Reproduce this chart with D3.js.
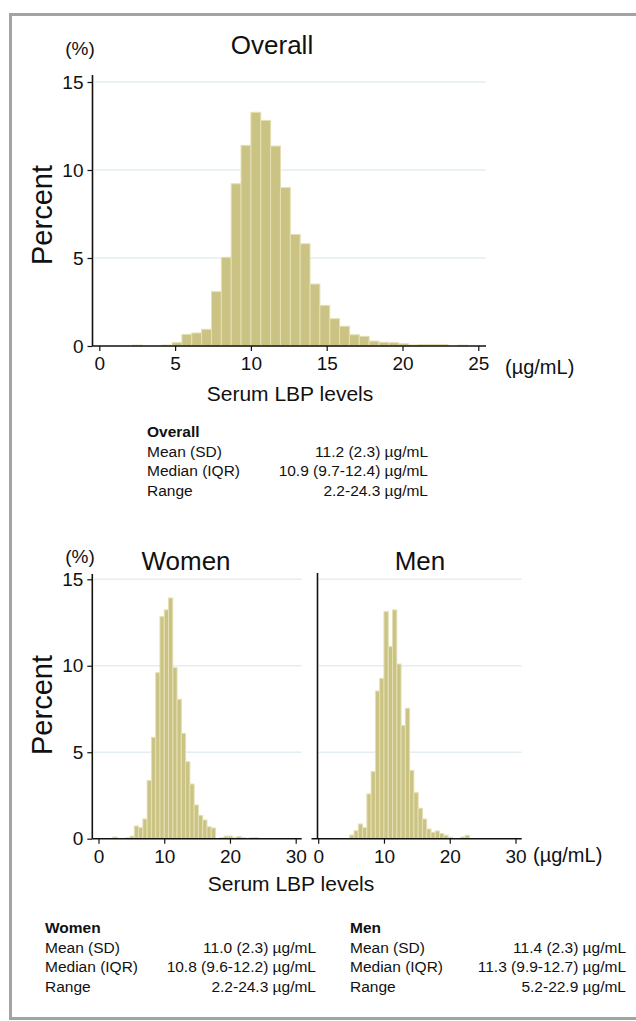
<!DOCTYPE html>
<meta charset="utf-8">
<style>
  body { margin: 0; background: #fff; }
  svg text { font-family: "Liberation Sans", Arial, sans-serif; fill: #111; }
  .grid line { stroke: #e4eef2; stroke-width: 1.5; }
  .bar { fill: #cbc383; stroke: #e4e0b4; stroke-width: 1; }
  .axisline { stroke: #111; stroke-width: 1.6; }
  .tick line { stroke: #111; stroke-width: 1.2; }
</style>
<body></body>
<script src="https://d3js.org/d3.v7.min.js"></script>
<script>

// bin left edges (ug/mL), every bin 0.65 wide, shared by all panels
var binEdges = [2.2, 2.85, 3.5, 4.15, 4.8, 5.45, 6.1, 6.75, 7.4, 8.05, 8.7, 9.35,
  10.0, 10.65, 11.3, 11.95, 12.6, 13.25, 13.9, 14.55, 15.2, 15.85, 16.5, 17.15,
  17.8, 18.45, 19.1, 19.75, 20.4, 21.05, 21.7, 22.35, 23.0, 23.65];
var binWidth = 0.65;

// percent per bin
var overallPct = [0.05, 0, 0, 0.05, 0.19, 0.66, 0.74, 0.95, 3.09, 5.04, 9.22, 11.4,
  13.28, 12.82, 11.36, 9.0, 6.34, 5.81, 3.52, 2.31, 1.55, 1.12, 0.64, 0.55,
  0.28, 0.21, 0.19, 0.13, 0.06, 0.09, 0.09, 0.09, 0, 0.05];
var womenPct = [0.1, 0, 0, 0.05, 0.15, 0.73, 0.64, 1.14, 3.36, 5.86, 9.6, 12.84,
  13.23, 13.92, 9.89, 8.06, 6.09, 4.45, 3.16, 1.95, 1.35, 1.08, 0.69, 0.62,
  0, 0.05, 0.15, 0.15, 0.05, 0.13, 0.05, 0, 0.05, 0.07];
var menPct = [0, 0, 0, 0, 0.21, 0.46, 0.85, 0.64, 2.59, 3.88, 8.54, 9.27,
  13.13, 11.11, 13.23, 10.1, 6.54, 7.54, 3.95, 2.66, 1.76, 1.14, 0.56, 0.37,
  0.45, 0.3, 0.2, 0.08, 0, 0, 0.1, 0.2, 0, 0];

var yTicks = [0, 5, 10, 15];
var xTicksTop = [0, 5, 10, 15, 20, 25];
var xTicksBottom = [0, 10, 20, 30];

var statLabels = ["Mean (SD)", "Median (IQR)", "Range"];
var overallStats = ["11.2 (2.3) \u00b5g/mL", "10.9 (9.7-12.4) \u00b5g/mL", "2.2-24.3 \u00b5g/mL"];
var womenStats = ["11.0 (2.3) \u00b5g/mL", "10.8 (9.6-12.2) \u00b5g/mL", "2.2-24.3 \u00b5g/mL"];
var menStats = ["11.4 (2.3) \u00b5g/mL", "11.3 (9.9-12.7) \u00b5g/mL", "5.2-22.9 \u00b5g/mL"];

var W = 636, H = 1021;

var svg = d3.select("body").append("svg")
  .attr("width", W)
  .attr("height", H);

// grey frame, open on the right
svg.append("rect")
  .attr("x", 10.5).attr("y", 14.5)
  .attr("width", 660).attr("height", 1004)
  .attr("fill", "none")
  .attr("stroke", "#a3a3a3")
  .attr("stroke-width", 3);

function panel(p) {
  var x = d3.scaleLinear().domain(p.xDomain).range(p.xRange);
  var y = d3.scaleLinear().domain([0, 15]).range(p.yRange);
  var g = svg.append("g");

  // gridlines
  g.append("g").attr("class", "grid")
    .selectAll("line")
    .data(yTicks.filter(function(d) { return d > 0; }))
    .enter().append("line")
    .attr("x1", p.gridLeft).attr("x2", p.axisRight)
    .attr("y1", function(d) { return y(d); })
    .attr("y2", function(d) { return y(d); });

  // bars
  g.selectAll("rect.bar")
    .data(binEdges.map(function(e, i) { return {x0: e, v: p.values[i]}; })
      .filter(function(d) { return d.v > 0; }))
    .enter().append("rect")
    .attr("class", "bar")
    .attr("x", function(d) { return x(d.x0); })
    .attr("width", function(d) { return x(d.x0 + binWidth) - x(d.x0); })
    .attr("y", function(d) { return y(d.v); })
    .attr("height", function(d) { return y(0) - y(d.v); });

  // x axis: ticks + labels, line drawn separately
  var xa = g.append("g")
    .attr("transform", "translate(0," + y(0) + ")")
    .call(d3.axisBottom(x).tickValues(p.xTicks).tickSize(5).tickSizeOuter(0).tickPadding(6));
  xa.select(".domain").remove();
  xa.selectAll("text").style("font-size", "19px").attr("fill", "#111");

  g.append("line").attr("class", "axisline")
    .attr("x1", p.xAxisLeft).attr("x2", p.axisRight)
    .attr("y1", y(0)).attr("y2", y(0));

  // y axis line
  g.append("line").attr("class", "axisline")
    .attr("x1", p.yAxisX).attr("x2", p.yAxisX)
    .attr("y1", p.yAxisTop).attr("y2", y(0));

  if (p.yLabels) {
    var ya = g.append("g")
      .attr("transform", "translate(" + p.yAxisX + ",0)")
      .call(d3.axisLeft(y).tickValues(yTicks).tickSize(5).tickSizeOuter(0).tickPadding(4));
    ya.select(".domain").remove();
    ya.selectAll("text").style("font-size", "19px").attr("fill", "#111");
  }

  g.append("text")
    .attr("x", p.titleX).attr("y", p.titleY)
    .attr("text-anchor", "middle")
    .style("font-size", "26px")
    .text(p.title);
}

panel({
  xDomain: [0, 25], xRange: [99.3, 478.3], yRange: [346, 82],
  values: overallPct, xTicks: xTicksTop,
  yAxisX: 92.5, yAxisTop: 75, xAxisLeft: 92.5, axisRight: 486, gridLeft: 94,
  yLabels: true, title: "Overall", titleX: 272, titleY: 54
});
panel({
  xDomain: [0, 30], xRange: [98.5, 295.7], yRange: [838.7, 579.3],
  values: womenPct, xTicks: xTicksBottom,
  yAxisX: 92.3, yAxisTop: 574, xAxisLeft: 92.3, axisRight: 301.7, gridLeft: 94,
  yLabels: true, title: "Women", titleX: 186, titleY: 570
});
panel({
  xDomain: [0, 30], xRange: [318.2, 515.5], yRange: [838.7, 579.3],
  values: menPct, xTicks: xTicksBottom,
  yAxisX: 317.5, yAxisTop: 573, xAxisLeft: 311.5, axisRight: 521.7, gridLeft: 319,
  yLabels: false, title: "Men", titleX: 420, titleY: 570
});

// axis titles and units
function label(txt, x, y, size, anchor, rot) {
  var t = svg.append("text")
    .attr("text-anchor", anchor || "start")
    .style("font-size", size + "px")
    .text(txt);
  if (rot) t.attr("transform", "translate(" + x + "," + y + ") rotate(" + rot + ")");
  else t.attr("x", x).attr("y", y);
  return t;
}

label("(%)", 80, 55, 19, "middle");
label("(%)", 80, 563, 19, "middle");
label("Percent", 52, 215, 29, "middle", -90);
label("Percent", 52, 705, 29, "middle", -90);
label("(\u00b5g/mL)", 505, 374, 20);
label("(\u00b5g/mL)", 533, 862, 20);
label("Serum LBP levels", 290, 401, 21, "middle");
label("Serum LBP levels", 291, 891, 21, "middle");

// summary tables
function table(head, vals, x, xr, y0) {
  label(head, x, y0, 15.5, "start").style("font-weight", "bold");
  statLabels.forEach(function(s, i) {
    label(s, x, y0 + 19.7 * (i + 1), 15.5, "start");
    label(vals[i], xr, y0 + 19.7 * (i + 1), 15.5, "end");
  });
}
table("Overall", overallStats, 147, 428, 437);
table("Women", womenStats, 45, 316, 933);
table("Men", menStats, 350, 626, 933);

</script>
